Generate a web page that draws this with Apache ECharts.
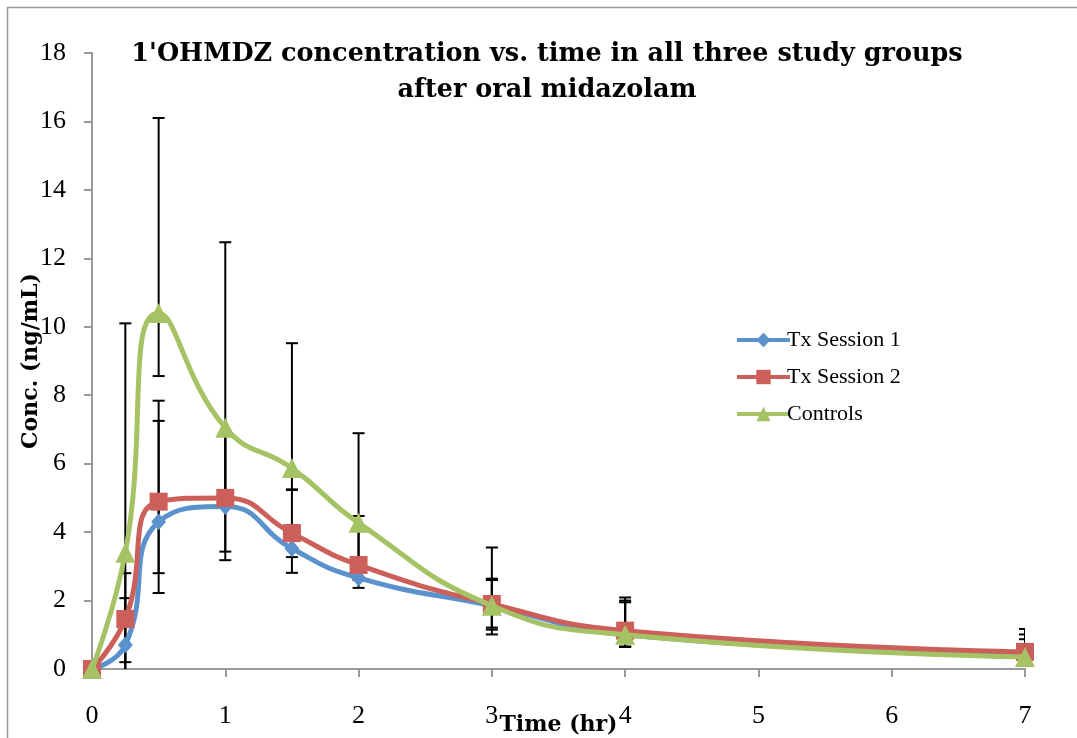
<!DOCTYPE html>
<html>
<head>
<meta charset="utf-8">
<script src="https://cdn.jsdelivr.net/npm/echarts@6/dist/echarts.min.js"></script>
<style>html,body{margin:0;padding:0;background:#fff}#c{width:1077px;height:738px}</style>
</head>
<body>
<div id="c"></div>
<script>
// ---- data ----
const times = [0, 0.25, 0.5, 1, 1.5, 2, 3, 4, 7];
const xTicks = [0, 1, 2, 3, 4, 5, 6, 7];
const yTicks = [0, 2, 4, 6, 8, 10, 12, 14, 16, 18];
const seriesNames = ['Tx Session 1', 'Tx Session 2', 'Controls'];
const tx1 = [0, 0.70, 4.30, 4.75, 3.52, 2.66, 1.85, 1.00, 0.40];
const tx2 = [0, 1.46, 4.89, 5.00, 3.97, 3.04, 1.90, 1.12, 0.50];
const controls = [0, 3.40, 10.40, 7.05, 5.87, 4.27, 1.85, 1.00, 0.35];
// error bar ends (low / high)
const tx1Low  = [null, -0.60, 2.22, 3.18, 2.81, 2.37, 1.15, 0.65, 0.20];
const tx1High = [null, 2.07, 7.25, 6.90, 4.20, 3.00, 2.60, 2.00, 1.17];
const tx2Low  = [null, 0.20, 2.80, 3.43, 3.27, 2.60, 1.21, 0.65, 0.30];
const tx2High = [null, 2.80, 7.84, 6.95, 5.23, 4.47, 2.64, 1.95, 1.01];
const ctlLow  = [null, -3.30, 8.56, 5.20, 5.25, 3.00, 1.01, 0.65, 0.25];
const ctlHigh = [null, 10.10, 16.10, 12.47, 9.52, 6.89, 3.55, 2.09, 0.87];

const colors = ['#5B92CD', '#CD5F5A', '#A5C364'];
const symbols = ['diamond', 'rect', 'triangle'];
const symbolSizes = [[15, 17], 18, 20];
const values = [tx1, tx2, controls];
const lows = [tx1Low, tx2Low, ctlLow];
const highs = [tx1High, tx2High, ctlHigh];

const chart = echarts.init(document.getElementById('c'), null, {renderer: 'canvas'});

function pairs(arr) { return times.map((t, i) => [t, arr[i]]); }
function errData(lo, hi) {
  const out = [];
  times.forEach((t, i) => { if (lo[i] !== null) out.push([t, lo[i], hi[i]]); });
  return out;
}
function renderErr(params, api) {
  const x = api.value(0), lo = api.value(1), hi = api.value(2);
  const a = api.coord([x, lo]), b = api.coord([x, hi]);
  const w = 6;
  const st = {stroke: '#000', lineWidth: 2};
  return {type: 'group', children: [
    {type: 'line', shape: {x1: a[0], y1: a[1], x2: b[0], y2: b[1]}, style: st},
    {type: 'line', shape: {x1: a[0] - w, y1: a[1], x2: a[0] + w, y2: a[1]}, style: st},
    {type: 'line', shape: {x1: b[0] - w, y1: b[1], x2: b[0] + w, y2: b[1]}, style: st}
  ]};
}

const series = [];
values.forEach((v, k) => {
  series.push({
    type: 'custom', name: seriesNames[k] + ' err', renderItem: renderErr,
    data: errData(lows[k], highs[k]), clip: true, z: 1, silent: true,
    encode: {x: 0, y: [1, 2]}
  });
});
values.forEach((v, k) => {
  series.push({
    type: 'line', name: seriesNames[k], data: pairs(v), smooth: 0.5,
    symbol: symbols[k], symbolSize: symbolSizes[k], showAllSymbol: true,
    lineStyle: {color: colors[k], width: 5}, itemStyle: {color: colors[k]},
    z: 3 + k, animation: false
  });
});

const axisFont = {fontFamily: 'Liberation Serif', fontSize: 26, color: '#000'};
chart.setOption({
  animation: false,
  backgroundColor: '#fff',
  grid: {left: 92, top: 53, right: 52, bottom: 69, outerBoundsMode: 'none', containLabel: false},
  graphic: [
    {type: 'rect', shape: {x: 7.5, y: 7.5, width: 1100, height: 760},
     style: {fill: 'none', stroke: '#9a9a9a', lineWidth: 1.5}, silent: true},
    {type: 'text', x: 547, y: 72, style: {
      text: "1'OHMDZ concentration vs. time in all three study groups\nafter oral midazolam",
      font: 'bold 25.5px "DejaVu Serif"', fill: '#000', textAlign: 'center',
      textVerticalAlign: 'middle', lineHeight: 36}}
  ],
  legend: {
    data: seriesNames, orient: 'vertical', left: 730, top: 324,
    itemWidth: 53, itemHeight: 18, itemGap: 15,
    lineStyle: {width: 4},
    textStyle: {fontFamily: 'Liberation Serif', fontSize: 22, color: '#000', padding: [0, 0, 0, -8]}
  },
  xAxis: {
    type: 'value', min: xTicks[0], max: xTicks[xTicks.length - 1], interval: 1,
    name: 'Time (hr)', nameLocation: 'middle', nameGap: 45, nameMoveOverlap: false,
    nameTextStyle: {fontFamily: 'DejaVu Serif', fontWeight: 'bold', fontSize: 22, color: '#000'},
    axisLine: {lineStyle: {color: '#9a9a9a', width: 2}},
    axisTick: {show: true, length: 8, lineStyle: {color: '#9a9a9a', width: 2}},
    axisLabel: Object.assign({margin: 34}, axisFont),
    splitLine: {show: false}
  },
  yAxis: {
    type: 'value', min: yTicks[0], max: yTicks[yTicks.length - 1], interval: 2,
    name: 'Conc. (ng/mL)', nameLocation: 'middle', nameGap: 50, nameRotate: 90, nameMoveOverlap: false,
    nameTextStyle: {fontFamily: 'DejaVu Serif', fontWeight: 'bold', fontSize: 22, color: '#000'},
    axisLine: {show: true, lineStyle: {color: '#9a9a9a', width: 2}},
    axisTick: {show: true, length: 8, lineStyle: {color: '#9a9a9a', width: 2}},
    axisLabel: Object.assign({margin: 26}, axisFont),
    splitLine: {show: false}
  },
  series: series
});
</script>
</body>
</html>
